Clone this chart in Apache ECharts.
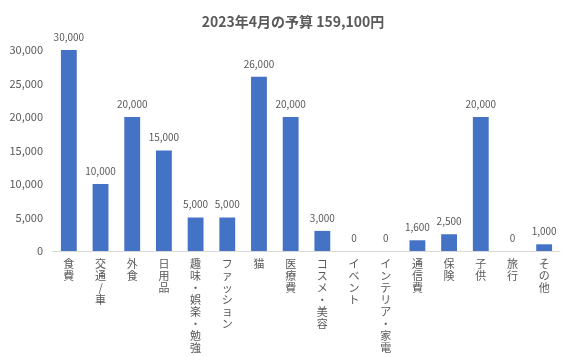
<!DOCTYPE html>
<html><head><meta charset="utf-8">
<script src="https://cdn.jsdelivr.net/npm/echarts@6/dist/echarts.min.js"></script>
<style>html,body{margin:0;padding:0;background:#fff}#c{width:586px;height:357px}</style>
</head><body><div id="c"></div>
<script>
const title = '2023年4月の予算 159,100円';
const categories = ['食費','交通/車','外食','日用品','趣味・娯楽・勉強','ファッション','猫','医療費','コスメ・美容','イベント','インテリア・家電','通信費','保険','子供','旅行','その他'];
const values = [30000,10000,20000,15000,5000,5000,26000,20000,3000,0,0,1600,2500,20000,0,1000];
const yTicks = {min:0, max:30000, interval:5000};
const font = '"Noto Sans CJK JP", "Noto Sans", sans-serif';
const fmt = v => v.toLocaleString('en-US');
const chart = echarts.init(document.getElementById('c'));
chart.setOption({
  animation:false,
  title:{text:title,left:'center',top:10,textStyle:{fontFamily:font,fontSize:14,fontWeight:'bold',color:'#595959'}},
  grid:{left:53,right:26,top:50,bottom:106,containLabel:false,outerBoundsMode:'none'},
  xAxis:{type:'category',data:categories,
    axisLine:{lineStyle:{color:'#d9d9d9'}},axisTick:{show:false},
    axisLabel:{interval:0,fontFamily:font,fontSize:11,color:'#595959',lineHeight:12,margin:7,verticalAlign:'top',
      formatter:s=>s.split('').join('\n')}},
  yAxis:{type:'value',min:yTicks.min,max:yTicks.max,interval:yTicks.interval,
    splitLine:{show:false},axisLine:{show:false},axisTick:{show:false},
    axisLabel:{fontFamily:font,fontSize:11,color:'#595959',margin:10,formatter:fmt}},
  series:[{type:'bar',data:values,barWidth:'50%',itemStyle:{color:'#4472c4'},
    label:{show:true,position:'top',distance:8,fontFamily:font,fontSize:10,color:'#595959',formatter:p=>fmt(p.value)}}]
});
</script></body></html>
